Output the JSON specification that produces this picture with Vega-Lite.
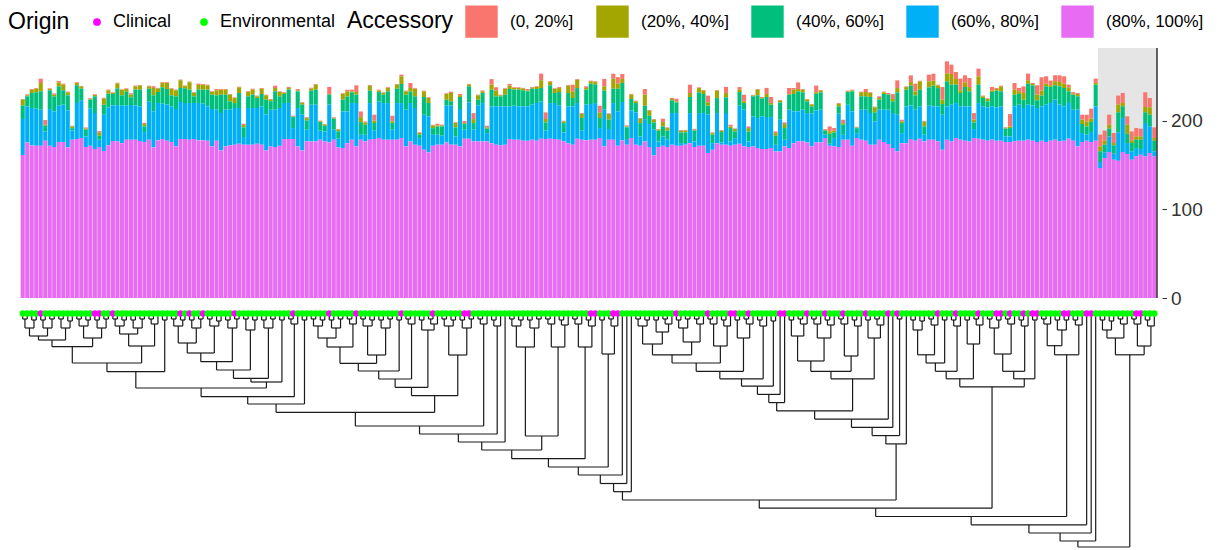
{
"$schema": "https://vega.github.io/schema/vega-lite/v6.json",
"width": 1147, "height": 501,
"autosize": {"type": "none"},
"padding": {"left": 15, "top": 48, "right": 58, "bottom": 1},
"background": "white",
"config": {"view": {"stroke": null}, "font": "Liberation Sans"},
"datasets": {
"hl": [{"from": 239.5, "to": 252.6, "bot": 0, "top": 282}],
"bars": [
{"i":1,"a":0.8,"b":6.4,"c":15.4,"d":40.7,"e":161.2,"o":"E"},
{"i":2,"a":1.1,"b":1.1,"c":11.3,"d":40.7,"e":175.5,"o":"E"},
{"i":3,"a":0.8,"b":3.8,"c":16.9,"d":42.2,"e":172.1,"o":"E"},
{"i":4,"a":0.8,"b":4.1,"c":18.5,"d":41.8,"e":171.7,"o":"E"},
{"i":5,"a":4.9,"b":9.4,"c":20.7,"d":40.7,"e":171.7,"o":"C"},
{"i":6,"a":5.3,"b":1.1,"c":6.4,"d":10.5,"e":177.4,"o":"E"},
{"i":7,"a":0.8,"b":1.5,"c":21.1,"d":41.4,"e":171.7,"o":"E"},
{"i":8,"a":1.5,"b":1.9,"c":16.9,"d":40.3,"e":170.2,"o":"E"},
{"i":9,"a":1.5,"b":4.5,"c":21.8,"d":41.0,"e":175.9,"o":"E"},
{"i":10,"a":1.1,"b":6.4,"c":16.2,"d":42.2,"e":175.9,"o":"E"},
{"i":11,"a":0.8,"b":3.4,"c":16.9,"d":41.8,"e":169.9,"o":"E"},
{"i":12,"a":0.8,"b":1.9,"c":2.6,"d":10.5,"e":178.5,"o":"E"},
{"i":13,"a":0.8,"b":2.6,"c":20.0,"d":40.7,"e":179.3,"o":"E"},
{"i":14,"a":0.8,"b":2.3,"c":13.2,"d":42.6,"e":180.4,"o":"E"},
{"i":15,"a":1.1,"b":1.5,"c":7.5,"d":12.1,"e":170.2,"o":"E"},
{"i":16,"a":0.8,"b":0.8,"c":10.2,"d":41.8,"e":171.7,"o":"E"},
{"i":17,"a":0.8,"b":1.5,"c":18.8,"d":40.7,"e":168.0,"o":"C"},
{"i":18,"a":1.9,"b":3.4,"c":4.5,"d":8.3,"e":170.2,"o":"C"},
{"i":19,"a":1.1,"b":6.8,"c":11.3,"d":41.0,"e":165.7,"o":"E"},
{"i":20,"a":0.8,"b":3.8,"c":15.8,"d":42.6,"e":172.1,"o":"E"},
{"i":21,"a":0.8,"b":1.1,"c":12.8,"d":40.3,"e":177.0,"o":"C"},
{"i":22,"a":0.8,"b":5.6,"c":18.8,"d":41.0,"e":176.6,"o":"E"},
{"i":23,"a":0.4,"b":6.4,"c":11.7,"d":42.2,"e":174.7,"o":"E"},
{"i":24,"a":0.8,"b":3.0,"c":15.8,"d":38.4,"e":178.5,"o":"E"},
{"i":25,"a":1.5,"b":3.0,"c":8.7,"d":39.2,"e":178.5,"o":"E"},
{"i":26,"a":0.8,"b":3.8,"c":17.7,"d":38.8,"e":178.5,"o":"E"},
{"i":27,"a":0.8,"b":4.5,"c":18.8,"d":39.2,"e":177.0,"o":"E"},
{"i":28,"a":1.5,"b":2.6,"c":6.4,"d":11.3,"e":175.9,"o":"E"},
{"i":29,"a":0.8,"b":2.6,"c":14.7,"d":42.9,"e":178.5,"o":"E"},
{"i":30,"a":1.9,"b":8.3,"c":18.1,"d":40.7,"e":169.9,"o":"E"},
{"i":31,"a":0.8,"b":3.8,"c":12.4,"d":42.2,"e":177.8,"o":"E"},
{"i":32,"a":0.8,"b":4.9,"c":18.5,"d":39.9,"e":179.3,"o":"E"},
{"i":33,"a":0.8,"b":6.8,"c":17.7,"d":40.7,"e":177.4,"o":"E"},
{"i":34,"a":0.8,"b":7.2,"c":12.4,"d":40.3,"e":175.9,"o":"E"},
{"i":35,"a":0.8,"b":6.8,"c":14.3,"d":42.2,"e":171.0,"o":"E"},
{"i":36,"a":0.8,"b":8.7,"c":15.8,"d":41.8,"e":179.3,"o":"C"},
{"i":37,"a":0.8,"b":2.3,"c":16.6,"d":40.7,"e":179.3,"o":"E"},
{"i":38,"a":0.8,"b":8.3,"c":15.1,"d":41.4,"e":178.5,"o":"C"},
{"i":39,"a":0.8,"b":3.8,"c":7.5,"d":40.7,"e":179.3,"o":"E"},
{"i":40,"a":1.5,"b":5.3,"c":15.1,"d":42.2,"e":177.8,"o":"E"},
{"i":41,"a":0.8,"b":5.6,"c":15.8,"d":41.4,"e":177.8,"o":"C"},
{"i":42,"a":0.8,"b":4.9,"c":18.8,"d":38.8,"e":177.4,"o":"E"},
{"i":43,"a":0.8,"b":3.0,"c":16.2,"d":42.2,"e":171.0,"o":"E"},
{"i":44,"a":1.5,"b":5.6,"c":16.2,"d":35.0,"e":177.4,"o":"E"},
{"i":45,"a":0.8,"b":5.6,"c":20.7,"d":42.2,"e":166.5,"o":"E"},
{"i":46,"a":0.8,"b":5.6,"c":16.9,"d":41.4,"e":171.0,"o":"E"},
{"i":47,"a":0.8,"b":7.5,"c":9.4,"d":40.3,"e":172.1,"o":"E"},
{"i":48,"a":0.8,"b":5.6,"c":5.6,"d":41.4,"e":172.9,"o":"C"},
{"i":49,"a":0.8,"b":6.4,"c":16.9,"d":40.3,"e":174.0,"o":"E"},
{"i":50,"a":1.5,"b":2.6,"c":10.9,"d":8.7,"e":172.9,"o":"E"},
{"i":51,"a":0.8,"b":4.9,"c":13.2,"d":41.4,"e":172.9,"o":"E"},
{"i":52,"a":1.1,"b":5.6,"c":15.1,"d":41.4,"e":172.9,"o":"E"},
{"i":53,"a":0.8,"b":1.9,"c":11.3,"d":40.3,"e":174.0,"o":"E"},
{"i":54,"a":0.8,"b":6.0,"c":13.9,"d":43.3,"e":172.9,"o":"E"},
{"i":55,"a":0.8,"b":4.9,"c":16.9,"d":40.3,"e":166.5,"o":"E"},
{"i":56,"a":0.8,"b":1.9,"c":9.4,"d":41.4,"e":171.0,"o":"E"},
{"i":57,"a":2.6,"b":3.8,"c":20.7,"d":42.2,"e":170.2,"o":"E"},
{"i":58,"a":0.8,"b":4.9,"c":13.2,"d":42.6,"e":171.7,"o":"E"},
{"i":59,"a":0.8,"b":1.1,"c":10.2,"d":40.7,"e":179.3,"o":"E"},
{"i":60,"a":1.1,"b":1.9,"c":15.1,"d":40.7,"e":179.3,"o":"E"},
{"i":61,"a":0.8,"b":0.8,"c":12.4,"d":12.4,"e":179.3,"o":"C"},
{"i":62,"a":1.5,"b":1.1,"c":18.8,"d":43.3,"e":171.0,"o":"E"},
{"i":63,"a":0.8,"b":1.9,"c":11.3,"d":40.3,"e":166.5,"o":"E"},
{"i":64,"a":1.1,"b":2.6,"c":10.5,"d":13.2,"e":176.6,"o":"E"},
{"i":65,"a":1.1,"b":2.3,"c":15.8,"d":41.4,"e":176.6,"o":"E"},
{"i":66,"a":0.8,"b":5.6,"c":16.9,"d":41.4,"e":176.6,"o":"E"},
{"i":67,"a":0.8,"b":0.8,"c":9.8,"d":10.2,"e":178.5,"o":"E"},
{"i":68,"a":0.8,"b":1.1,"c":6.4,"d":11.3,"e":176.6,"o":"E"},
{"i":69,"a":7.9,"b":0.8,"c":11.3,"d":42.6,"e":175.5,"o":"C"},
{"i":70,"a":0.8,"b":0.8,"c":12.4,"d":11.3,"e":178.5,"o":"E"},
{"i":71,"a":0.8,"b":1.9,"c":8.3,"d":9.8,"e":169.9,"o":"E"},
{"i":72,"a":0.8,"b":6.4,"c":13.2,"d":41.4,"e":169.1,"o":"E"},
{"i":73,"a":1.9,"b":5.6,"c":16.9,"d":35.8,"e":174.7,"o":"E"},
{"i":74,"a":1.9,"b":1.1,"c":12.1,"d":41.4,"e":178.5,"o":"E"},
{"i":75,"a":7.5,"b":3.0,"c":9.4,"d":49.0,"e":171.0,"o":"C"},
{"i":76,"a":6.4,"b":5.6,"c":14.3,"d":5.6,"e":178.5,"o":"E"},
{"i":77,"a":1.1,"b":2.6,"c":11.3,"d":7.5,"e":176.6,"o":"E"},
{"i":78,"a":0.8,"b":5.6,"c":13.9,"d":41.4,"e":178.5,"o":"E"},
{"i":79,"a":6.8,"b":2.6,"c":8.7,"d":9.4,"e":179.3,"o":"E"},
{"i":80,"a":0.8,"b":1.9,"c":10.5,"d":41.4,"e":180.4,"o":"E"},
{"i":81,"a":0.8,"b":1.9,"c":9.4,"d":41.4,"e":178.5,"o":"E"},
{"i":82,"a":0.8,"b":3.8,"c":13.2,"d":41.4,"e":178.5,"o":"E"},
{"i":83,"a":6.4,"b":1.9,"c":7.5,"d":11.3,"e":178.5,"o":"E"},
{"i":84,"a":0.8,"b":4.5,"c":16.2,"d":41.4,"e":178.5,"o":"E"},
{"i":85,"a":1.9,"b":8.7,"c":21.5,"d":39.5,"e":180.4,"o":"C"},
{"i":86,"a":0.8,"b":3.8,"c":16.9,"d":41.4,"e":171.0,"o":"E"},
{"i":87,"a":5.6,"b":3.8,"c":13.2,"d":43.3,"e":176.6,"o":"E"},
{"i":88,"a":0.8,"b":8.3,"c":13.2,"d":41.4,"e":172.9,"o":"E"},
{"i":89,"a":0.8,"b":1.9,"c":3.8,"d":8.7,"e":171.7,"o":"E"},
{"i":90,"a":0.8,"b":6.4,"c":20.0,"d":39.5,"e":167.2,"o":"E"},
{"i":91,"a":0.8,"b":5.6,"c":15.1,"d":40.7,"e":164.2,"o":"E"},
{"i":92,"a":0.8,"b":3.0,"c":7.5,"d":12.4,"e":171.7,"o":"C"},
{"i":93,"a":1.9,"b":1.1,"c":9.4,"d":11.3,"e":172.9,"o":"E"},
{"i":94,"a":1.1,"b":0.8,"c":10.5,"d":10.2,"e":172.9,"o":"E"},
{"i":95,"a":0.8,"b":6.4,"c":6.8,"d":41.4,"e":175.5,"o":"E"},
{"i":96,"a":1.5,"b":9.4,"c":4.9,"d":44.1,"e":172.9,"o":"E"},
{"i":97,"a":0.8,"b":4.9,"c":10.2,"d":9.4,"e":172.9,"o":"E"},
{"i":98,"a":1.5,"b":1.9,"c":13.6,"d":42.2,"e":171.0,"o":"E"},
{"i":99,"a":2.3,"b":1.1,"c":6.4,"d":10.2,"e":179.6,"o":"C"},
{"i":100,"a":0.8,"b":1.9,"c":18.1,"d":41.0,"e":179.6,"o":"C"},
{"i":101,"a":6.8,"b":4.5,"c":7.5,"d":13.2,"e":176.6,"o":"E"},
{"i":102,"a":0.8,"b":4.9,"c":6.4,"d":40.7,"e":176.6,"o":"E"},
{"i":103,"a":1.1,"b":1.9,"c":11.3,"d":43.3,"e":176.6,"o":"E"},
{"i":104,"a":1.9,"b":1.5,"c":4.9,"d":9.4,"e":176.6,"o":"E"},
{"i":105,"a":6.4,"b":5.6,"c":18.8,"d":41.4,"e":174.7,"o":"E"},
{"i":106,"a":3.8,"b":6.4,"c":11.3,"d":43.3,"e":172.9,"o":"E"},
{"i":107,"a":0.8,"b":1.1,"c":11.3,"d":44.1,"e":172.1,"o":"E"},
{"i":108,"a":0.8,"b":6.4,"c":13.2,"d":43.3,"e":172.9,"o":"E"},
{"i":109,"a":1.9,"b":3.8,"c":19.6,"d":36.9,"e":179.3,"o":"E"},
{"i":110,"a":0.8,"b":1.9,"c":18.1,"d":38.4,"e":178.5,"o":"E"},
{"i":111,"a":0.8,"b":1.9,"c":18.8,"d":37.7,"e":178.5,"o":"E"},
{"i":112,"a":0.8,"b":1.9,"c":18.1,"d":38.8,"e":177.4,"o":"E"},
{"i":113,"a":1.5,"b":1.1,"c":16.9,"d":38.8,"e":177.4,"o":"E"},
{"i":114,"a":0.8,"b":1.1,"c":18.1,"d":39.5,"e":178.5,"o":"E"},
{"i":115,"a":0.8,"b":2.3,"c":15.8,"d":42.6,"e":177.4,"o":"E"},
{"i":116,"a":7.5,"b":8.7,"c":15.1,"d":42.2,"e":179.6,"o":"E"},
{"i":117,"a":7.5,"b":3.8,"c":9.0,"d":9.8,"e":179.3,"o":"E"},
{"i":118,"a":0.8,"b":3.8,"c":20.0,"d":40.3,"e":179.6,"o":"E"},
{"i":119,"a":0.8,"b":4.5,"c":11.3,"d":40.7,"e":179.3,"o":"E"},
{"i":120,"a":1.1,"b":4.5,"c":15.4,"d":38.4,"e":178.5,"o":"E"},
{"i":121,"a":0.8,"b":1.9,"c":10.5,"d":10.2,"e":176.6,"o":"E"},
{"i":122,"a":0.8,"b":8.3,"c":15.1,"d":41.4,"e":174.7,"o":"E"},
{"i":123,"a":7.5,"b":7.5,"c":9.4,"d":43.3,"e":172.9,"o":"E"},
{"i":124,"a":0.8,"b":9.4,"c":16.9,"d":40.3,"e":179.6,"o":"E"},
{"i":125,"a":0.8,"b":4.9,"c":14.3,"d":10.2,"e":178.5,"o":"E"},
{"i":126,"a":1.9,"b":1.9,"c":16.9,"d":40.3,"e":177.8,"o":"E"},
{"i":127,"a":0.8,"b":2.6,"c":23.0,"d":40.3,"e":178.5,"o":"C"},
{"i":128,"a":0.8,"b":3.0,"c":20.7,"d":41.4,"e":178.5,"o":"C"},
{"i":129,"a":7.5,"b":6.4,"c":11.3,"d":11.3,"e":180.4,"o":"E"},
{"i":130,"a":8.3,"b":4.9,"c":21.5,"d":41.4,"e":171.0,"o":"E"},
{"i":131,"a":0.8,"b":6.4,"c":10.5,"d":12.1,"e":178.5,"o":"E"},
{"i":132,"a":5.6,"b":11.3,"c":16.2,"d":41.4,"e":178.5,"o":"C"},
{"i":133,"a":7.5,"b":5.6,"c":25.6,"d":38.8,"e":171.7,"o":"C"},
{"i":134,"a":5.6,"b":4.5,"c":21.5,"d":43.3,"e":177.8,"o":"E"},
{"i":135,"a":1.1,"b":1.1,"c":13.2,"d":6.4,"e":172.9,"o":"E"},
{"i":136,"a":0.8,"b":4.9,"c":12.8,"d":31.3,"e":180.4,"o":"E"},
{"i":137,"a":0.8,"b":1.9,"c":10.5,"d":36.5,"e":172.9,"o":"E"},
{"i":138,"a":0.8,"b":4.9,"c":15.1,"d":10.5,"e":171.7,"o":"E"},
{"i":139,"a":6.4,"b":12.4,"c":15.1,"d":25.2,"e":176.6,"o":"E"},
{"i":140,"a":0.8,"b":5.6,"c":9.4,"d":26.0,"e":170.2,"o":"E"},
{"i":141,"a":0.8,"b":3.0,"c":8.3,"d":29.0,"e":160.8,"o":"E"},
{"i":142,"a":0.8,"b":1.1,"c":12.1,"d":6.4,"e":170.2,"o":"E"},
{"i":143,"a":3.8,"b":4.9,"c":11.3,"d":10.5,"e":171.7,"o":"E"},
{"i":144,"a":0.8,"b":3.0,"c":10.2,"d":8.3,"e":170.2,"o":"E"},
{"i":145,"a":1.1,"b":1.5,"c":14.3,"d":35.8,"e":172.9,"o":"E"},
{"i":146,"a":3.0,"b":1.1,"c":12.1,"d":36.9,"e":171.7,"o":"C"},
{"i":147,"a":0.8,"b":1.9,"c":12.1,"d":3.0,"e":171.7,"o":"E"},
{"i":148,"a":0.8,"b":1.9,"c":12.1,"d":1.9,"e":172.9,"o":"E"},
{"i":149,"a":9.4,"b":4.5,"c":18.1,"d":33.9,"e":174.7,"o":"E"},
{"i":150,"a":1.1,"b":1.1,"c":12.1,"d":6.4,"e":170.2,"o":"E"},
{"i":151,"a":0.8,"b":4.9,"c":23.3,"d":36.9,"e":171.7,"o":"E"},
{"i":152,"a":0.8,"b":3.8,"c":21.5,"d":36.9,"e":171.7,"o":"E"},
{"i":153,"a":7.5,"b":3.8,"c":10.2,"d":43.3,"e":163.5,"o":"C"},
{"i":154,"a":0.8,"b":1.9,"c":9.4,"d":7.5,"e":167.2,"o":"E"},
{"i":155,"a":0.8,"b":8.3,"c":16.9,"d":33.9,"e":174.7,"o":"E"},
{"i":156,"a":0.8,"b":1.5,"c":11.7,"d":2.6,"e":172.9,"o":"E"},
{"i":157,"a":6.8,"b":4.9,"c":17.7,"d":35.8,"e":172.9,"o":"E"},
{"i":158,"a":1.9,"b":1.9,"c":15.1,"d":4.9,"e":171.7,"o":"C"},
{"i":159,"a":0.8,"b":2.6,"c":7.5,"d":7.5,"e":172.9,"o":"C"},
{"i":160,"a":3.0,"b":2.6,"c":15.4,"d":42.9,"e":174.0,"o":"E"},
{"i":161,"a":7.5,"b":1.9,"c":7.5,"d":41.4,"e":171.0,"o":"E"},
{"i":162,"a":1.9,"b":3.8,"c":11.3,"d":6.4,"e":170.2,"o":"C"},
{"i":163,"a":0.8,"b":0.8,"c":22.6,"d":33.9,"e":171.0,"o":"E"},
{"i":164,"a":0.8,"b":6.4,"c":25.6,"d":33.9,"e":169.1,"o":"E"},
{"i":165,"a":1.1,"b":0.8,"c":20.0,"d":36.9,"e":168.0,"o":"E"},
{"i":166,"a":6.8,"b":3.4,"c":22.6,"d":36.2,"e":168.0,"o":"E"},
{"i":167,"a":6.8,"b":1.9,"c":13.9,"d":35.0,"e":169.1,"o":"E"},
{"i":168,"a":1.9,"b":3.0,"c":10.2,"d":7.5,"e":165.3,"o":"E"},
{"i":169,"a":0.8,"b":1.9,"c":19.6,"d":35.8,"e":165.3,"o":"C"},
{"i":170,"a":1.9,"b":4.5,"c":13.2,"d":7.5,"e":171.0,"o":"C"},
{"i":171,"a":6.8,"b":0.8,"c":16.9,"d":43.3,"e":169.1,"o":"E"},
{"i":172,"a":1.9,"b":4.9,"c":19.6,"d":35.8,"e":174.7,"o":"E"},
{"i":173,"a":7.5,"b":2.6,"c":22.6,"d":33.9,"e":176.6,"o":"E"},
{"i":174,"a":0.8,"b":3.0,"c":19.6,"d":35.8,"e":176.6,"o":"E"},
{"i":175,"a":0.8,"b":1.9,"c":13.2,"d":33.1,"e":175.5,"o":"C"},
{"i":176,"a":0.8,"b":1.9,"c":8.3,"d":36.9,"e":171.0,"o":"E"},
{"i":177,"a":7.5,"b":1.9,"c":18.5,"d":36.2,"e":175.5,"o":"E"},
{"i":178,"a":0.8,"b":1.9,"c":19.6,"d":36.9,"e":175.5,"o":"E"},
{"i":179,"a":0.8,"b":1.1,"c":4.5,"d":3.8,"e":180.4,"o":"C"},
{"i":180,"a":5.6,"b":2.6,"c":11.3,"d":2.3,"e":171.7,"o":"E"},
{"i":181,"a":3.0,"b":1.9,"c":6.4,"d":9.4,"e":171.0,"o":"E"},
{"i":182,"a":0.8,"b":3.0,"c":8.3,"d":37.7,"e":170.2,"o":"E"},
{"i":183,"a":3.8,"b":1.9,"c":11.3,"d":5.6,"e":178.5,"o":"C"},
{"i":184,"a":0.8,"b":0.8,"c":14.3,"d":39.5,"e":178.5,"o":"E"},
{"i":185,"a":0.8,"b":1.1,"c":22.6,"d":38.8,"e":171.7,"o":"E"},
{"i":186,"a":0.8,"b":0.8,"c":5.6,"d":5.6,"e":180.4,"o":"E"},
{"i":187,"a":0.8,"b":4.5,"c":15.1,"d":33.9,"e":178.5,"o":"E"},
{"i":188,"a":3.4,"b":4.9,"c":15.1,"d":35.0,"e":177.4,"o":"C"},
{"i":189,"a":0.8,"b":4.5,"c":18.1,"d":35.8,"e":172.9,"o":"E"},
{"i":190,"a":0.8,"b":5.6,"c":10.2,"d":26.4,"e":172.9,"o":"E"},
{"i":191,"a":1.9,"b":1.9,"c":11.3,"d":33.9,"e":178.5,"o":"E"},
{"i":192,"a":0.8,"b":1.9,"c":17.7,"d":36.5,"e":175.9,"o":"E"},
{"i":193,"a":1.5,"b":0.4,"c":17.0,"d":38.8,"e":173.6,"o":"C"},
{"i":194,"a":5.6,"b":2.6,"c":13.2,"d":39.5,"e":169.1,"o":"E"},
{"i":195,"a":8.7,"b":4.9,"c":25.2,"d":41.4,"e":165.3,"o":"C"},
{"i":196,"a":1.9,"b":1.9,"c":11.3,"d":11.3,"e":174.7,"o":"E"},
{"i":197,"a":0.8,"b":3.0,"c":18.8,"d":41.4,"e":174.7,"o":"E"},
{"i":198,"a":7.5,"b":4.1,"c":22.2,"d":38.0,"e":179.3,"o":"E"},
{"i":199,"a":8.7,"b":4.5,"c":16.2,"d":35.0,"e":177.4,"o":"E"},
{"i":200,"a":0.8,"b":9.4,"c":18.8,"d":36.5,"e":179.6,"o":"E"},
{"i":201,"a":0.8,"b":5.6,"c":9.4,"d":7.5,"e":176.6,"o":"E"},
{"i":202,"a":7.5,"b":6.8,"c":20.7,"d":38.4,"e":178.5,"o":"E"},
{"i":203,"a":7.9,"b":5.6,"c":23.3,"d":37.7,"e":178.5,"o":"E"},
{"i":204,"a":0.8,"b":3.0,"c":20.7,"d":39.5,"e":176.6,"o":"C"},
{"i":205,"a":14.3,"b":4.9,"c":12.1,"d":39.5,"e":167.2,"o":"E"},
{"i":206,"a":13.9,"b":8.7,"c":28.2,"d":37.7,"e":178.5,"o":"E"},
{"i":207,"a":10.5,"b":12.1,"c":22.6,"d":41.4,"e":176.6,"o":"E"},
{"i":208,"a":7.9,"b":6.4,"c":20.7,"d":39.5,"e":180.4,"o":"C"},
{"i":209,"a":13.2,"b":3.0,"c":15.1,"d":37.7,"e":178.5,"o":"E"},
{"i":210,"a":7.9,"b":5.3,"c":21.8,"d":38.8,"e":177.4,"o":"E"},
{"i":211,"a":10.2,"b":4.9,"c":16.9,"d":39.5,"e":176.6,"o":"E"},
{"i":212,"a":7.5,"b":3.0,"c":7.5,"d":10.2,"e":180.4,"o":"E"},
{"i":213,"a":8.7,"b":9.4,"c":20.7,"d":40.3,"e":179.6,"o":"C"},
{"i":214,"a":0.8,"b":1.9,"c":9.4,"d":37.7,"e":178.5,"o":"E"},
{"i":215,"a":0.8,"b":2.6,"c":6.8,"d":37.7,"e":177.4,"o":"E"},
{"i":216,"a":4.1,"b":1.5,"c":16.2,"d":37.7,"e":178.6,"o":"E"},
{"i":217,"a":1.1,"b":1.9,"c":18.8,"d":37.7,"e":177.4,"o":"C"},
{"i":218,"a":1.1,"b":5.3,"c":16.9,"d":38.8,"e":177.4,"o":"C"},
{"i":219,"a":0.8,"b":0.8,"c":8.7,"d":6.4,"e":175.9,"o":"E"},
{"i":220,"a":13.9,"b":1.9,"c":9.4,"d":6.4,"e":175.9,"o":"C"},
{"i":221,"a":7.5,"b":5.6,"c":13.2,"d":39.5,"e":176.7,"o":"E"},
{"i":222,"a":3.8,"b":3.0,"c":12.1,"d":40.7,"e":177.4,"o":"E"},
{"i":223,"a":7.5,"b":7.5,"c":9.4,"d":36.9,"e":177.4,"o":"C"},
{"i":224,"a":7.5,"b":3.8,"c":23.7,"d":39.5,"e":178.6,"o":"E"},
{"i":225,"a":1.1,"b":1.5,"c":22.6,"d":39.9,"e":177.4,"o":"C"},
{"i":226,"a":10.5,"b":6.4,"c":8.7,"d":38.4,"e":175.9,"o":"C"},
{"i":227,"a":15.1,"b":5.6,"c":12.1,"d":38.8,"e":177.4,"o":"E"},
{"i":228,"a":8.3,"b":3.0,"c":20.7,"d":42.2,"e":175.9,"o":"E"},
{"i":229,"a":5.3,"b":1.9,"c":18.1,"d":42.6,"e":177.4,"o":"E"},
{"i":230,"a":6.8,"b":4.5,"c":16.2,"d":45.2,"e":178.6,"o":"E"},
{"i":231,"a":7.5,"b":4.9,"c":20.7,"d":41.4,"e":176.7,"o":"E"},
{"i":232,"a":8.3,"b":4.9,"c":20.7,"d":38.8,"e":177.4,"o":"C"},
{"i":233,"a":3.0,"b":4.5,"c":13.2,"d":40.3,"e":179.7,"o":"C"},
{"i":234,"a":1.9,"b":1.1,"c":16.9,"d":35.0,"e":177.4,"o":"E"},
{"i":235,"a":1.1,"b":2.6,"c":15.1,"d":41.4,"e":171.0,"o":"E"},
{"i":236,"a":5.6,"b":4.9,"c":10.2,"d":10.2,"e":175.9,"o":"E"},
{"i":237,"a":7.5,"b":5.6,"c":9.4,"d":6.8,"e":177.4,"o":"C"},
{"i":238,"a":11.3,"b":3.8,"c":11.3,"d":11.3,"e":175.9,"o":"C"},
{"i":239,"a":4.9,"b":1.9,"c":24.5,"d":38.8,"e":177.4,"o":"E"},
{"i":240,"a":13.2,"b":5.6,"c":12.1,"d":6.8,"e":146.6,"o":"E"},
{"i":241,"a":11.3,"b":4.5,"c":8.7,"d":6.4,"e":157.9,"o":"E"},
{"i":242,"a":11.3,"b":4.5,"c":8.7,"d":17.7,"e":164.6,"o":"E"},
{"i":243,"a":11.3,"b":2.6,"c":9.4,"d":6.8,"e":156.0,"o":"E"},
{"i":244,"a":10.2,"b":8.7,"c":22.6,"d":32.0,"e":154.8,"o":"E"},
{"i":245,"a":11.3,"b":3.8,"c":13.2,"d":38.4,"e":164.6,"o":"E"},
{"i":246,"a":9.4,"b":10.2,"c":10.5,"d":12.4,"e":162.4,"o":"E"},
{"i":247,"a":10.5,"b":2.6,"c":9.4,"d":9.4,"e":156.0,"o":"E"},
{"i":248,"a":9.4,"b":3.8,"c":9.4,"d":9.4,"e":159.7,"o":"C"},
{"i":249,"a":8.7,"b":3.8,"c":10.5,"d":6.4,"e":161.6,"o":"C"},
{"i":250,"a":16.6,"b":6.0,"c":12.1,"d":37.7,"e":159.7,"o":"E"},
{"i":251,"a":10.5,"b":8.3,"c":13.2,"d":30.1,"e":163.5,"o":"E"},
{"i":252,"a":12.1,"b":3.0,"c":12.1,"d":5.6,"e":159.7,"o":"E"}
],
"tree": [
{"x1":1,"x2":2,"h":3,"h1":0,"h2":0},{"x1":3,"x2":4,"h":4,"h1":0,"h2":0},{"x1":1.5,"x2":3.5,"h":12,"h1":3,"h2":4},
{"x1":5,"x2":6,"h":4,"h1":0,"h2":0},{"x1":7,"x2":8,"h":3,"h1":0,"h2":0},{"x1":5.5,"x2":7.5,"h":12,"h1":4,"h2":3},
{"x1":2.5,"x2":6.5,"h":20,"h1":12,"h2":12},
{"x1":9,"x2":10,"h":3,"h1":0,"h2":0},{"x1":11,"x2":12,"h":5,"h1":0,"h2":0},{"x1":9.5,"x2":11.5,"h":12,"h1":3,"h2":5},
{"x1":4.5,"x2":10.5,"h":24,"h1":20,"h2":12},
{"x1":13,"x2":14,"h":3,"h1":0,"h2":0},{"x1":15,"x2":16,"h":4,"h1":0,"h2":0},{"x1":13.5,"x2":15.5,"h":10,"h1":3,"h2":4},
{"x1":17,"x2":18,"h":4,"h1":0,"h2":0},{"x1":19,"x2":20,"h":3,"h1":0,"h2":0},{"x1":17.5,"x2":19.5,"h":12,"h1":4,"h2":3},
{"x1":14.5,"x2":18.5,"h":22,"h1":10,"h2":12},
{"x1":7.5,"x2":16.5,"h":30.7,"h1":24,"h2":22},
{"x1":21,"x2":22,"h":3,"h1":0,"h2":0},{"x1":23,"x2":24,"h":4,"h1":0,"h2":0},{"x1":21.5,"x2":23.5,"h":10,"h1":3,"h2":4},
{"x1":25,"x2":26,"h":4,"h1":0,"h2":0},{"x1":27,"x2":28,"h":3,"h1":0,"h2":0},{"x1":25.5,"x2":27.5,"h":12,"h1":4,"h2":3},
{"x1":22.5,"x2":26.5,"h":18,"h1":10,"h2":12},
{"x1":29,"x2":30,"h":3,"h1":0,"h2":0},{"x1":29.5,"x2":31,"h":8,"h1":3,"h2":0},
{"x1":24.5,"x2":30.25,"h":30,"h1":18,"h2":8},
{"x1":12,"x2":27.375,"h":47,"h1":30.7,"h2":30},
{"x1":32,"x2":33,"h":4,"h1":0,"h2":0},
{"x1":19.69,"x2":32.5,"h":55.7,"h1":47,"h2":4},
{"x1":34,"x2":35,"h":3,"h1":0,"h2":0},{"x1":36,"x2":37,"h":4,"h1":0,"h2":0},{"x1":34.5,"x2":36.5,"h":10,"h1":3,"h2":4},
{"x1":38,"x2":39,"h":4,"h1":0,"h2":0},{"x1":40,"x2":41,"h":3,"h1":0,"h2":0},{"x1":38.5,"x2":40.5,"h":12,"h1":4,"h2":3},
{"x1":35.5,"x2":39.5,"h":27,"h1":10,"h2":12},
{"x1":42,"x2":43,"h":3,"h1":0,"h2":0},{"x1":44,"x2":45,"h":5,"h1":0,"h2":0},{"x1":42.5,"x2":44.5,"h":10,"h1":3,"h2":5},
{"x1":37.5,"x2":43.5,"h":37,"h1":27,"h2":10},
{"x1":46,"x2":47,"h":4,"h1":0,"h2":0},{"x1":48,"x2":49,"h":3,"h1":0,"h2":0},{"x1":46.5,"x2":48.5,"h":12,"h1":4,"h2":3},
{"x1":40.5,"x2":47.5,"h":45.7,"h1":37,"h2":12},
{"x1":50,"x2":51,"h":3,"h1":0,"h2":0},{"x1":52,"x2":53,"h":4,"h1":0,"h2":0},{"x1":50.5,"x2":52.5,"h":14,"h1":3,"h2":4},
{"x1":44,"x2":51.5,"h":54,"h1":45.7,"h2":14},
{"x1":54,"x2":55,"h":4,"h1":0,"h2":0},{"x1":56,"x2":57,"h":3,"h1":0,"h2":0},{"x1":54.5,"x2":56.5,"h":12,"h1":4,"h2":3},
{"x1":47.75,"x2":55.5,"h":62.3,"h1":54,"h2":12},
{"x1":58,"x2":59,"h":4,"h1":0,"h2":0},
{"x1":51.625,"x2":58.5,"h":66,"h1":62.3,"h2":4},
{"x1":26.09,"x2":55.06,"h":72,"h1":55.7,"h2":66},
{"x1":60,"x2":61,"h":3,"h1":0,"h2":0},{"x1":60.5,"x2":62,"h":8,"h1":3,"h2":0},
{"x1":40.575,"x2":61.25,"h":80.7,"h1":72,"h2":8},
{"x1":63,"x2":64,"h":4,"h1":0,"h2":0},
{"x1":50.91,"x2":63.5,"h":88,"h1":80.7,"h2":4},
{"x1":65,"x2":66,"h":3,"h1":0,"h2":0},{"x1":67,"x2":68,"h":4,"h1":0,"h2":0},{"x1":65.5,"x2":67.5,"h":10,"h1":3,"h2":4},
{"x1":69,"x2":70,"h":4,"h1":0,"h2":0},{"x1":71,"x2":72,"h":3,"h1":0,"h2":0},{"x1":69.5,"x2":71.5,"h":12,"h1":4,"h2":3},
{"x1":66.5,"x2":70.5,"h":22,"h1":10,"h2":12},
{"x1":73,"x2":74,"h":3,"h1":0,"h2":0},{"x1":73.5,"x2":75,"h":8,"h1":3,"h2":0},
{"x1":68.5,"x2":74.25,"h":31,"h1":22,"h2":8},
{"x1":76,"x2":77,"h":3,"h1":0,"h2":0},{"x1":78,"x2":79,"h":4,"h1":0,"h2":0},{"x1":76.5,"x2":78.5,"h":10,"h1":3,"h2":4},
{"x1":80,"x2":81,"h":4,"h1":0,"h2":0},{"x1":82,"x2":83,"h":3,"h1":0,"h2":0},{"x1":80.5,"x2":82.5,"h":12,"h1":4,"h2":3},
{"x1":77.5,"x2":81.5,"h":39,"h1":10,"h2":12},
{"x1":71.375,"x2":79.5,"h":47.3,"h1":31,"h2":39},
{"x1":84,"x2":85,"h":4,"h1":0,"h2":0},
{"x1":75.44,"x2":84.5,"h":55,"h1":47.3,"h2":4},
{"x1":86,"x2":87,"h":3,"h1":0,"h2":0},{"x1":86.5,"x2":88,"h":8,"h1":3,"h2":0},
{"x1":79.97,"x2":87.25,"h":63,"h1":55,"h2":8},
{"x1":89,"x2":90,"h":4,"h1":0,"h2":0},{"x1":91,"x2":92,"h":3,"h1":0,"h2":0},{"x1":91.5,"x2":93,"h":8,"h1":3,"h2":0},
{"x1":89.5,"x2":92.25,"h":14,"h1":4,"h2":8},
{"x1":83.61,"x2":90.875,"h":71.3,"h1":63,"h2":14},
{"x1":94,"x2":95,"h":3,"h1":0,"h2":0},{"x1":96,"x2":97,"h":4,"h1":0,"h2":0},{"x1":94.5,"x2":96.5,"h":10,"h1":3,"h2":4},
{"x1":98,"x2":99,"h":4,"h1":0,"h2":0},{"x1":100,"x2":101,"h":3,"h1":0,"h2":0},{"x1":98.5,"x2":100.5,"h":12,"h1":4,"h2":3},
{"x1":95.5,"x2":99.5,"h":39,"h1":10,"h2":12},
{"x1":87.24,"x2":97.5,"h":79.7,"h1":71.3,"h2":39},
{"x1":57.2,"x2":92.37,"h":96.3,"h1":88,"h2":79.7},
{"x1":102,"x2":103,"h":3,"h1":0,"h2":0},{"x1":102.5,"x2":104,"h":8,"h1":3,"h2":0},
{"x1":74.785,"x2":103.25,"h":110,"h1":96.3,"h2":8},
{"x1":105,"x2":106,"h":4,"h1":0,"h2":0},{"x1":105.5,"x2":107,"h":10,"h1":4,"h2":0},
{"x1":89.02,"x2":106.25,"h":118,"h1":110,"h2":10},
{"x1":97.63,"x2":108,"h":126,"h1":118,"h2":0},
{"x1":109,"x2":110,"h":3,"h1":0,"h2":0},{"x1":111,"x2":112,"h":4,"h1":0,"h2":0},{"x1":109.5,"x2":111.5,"h":10,"h1":3,"h2":4},
{"x1":113,"x2":114,"h":4,"h1":0,"h2":0},{"x1":115,"x2":116,"h":3,"h1":0,"h2":0},{"x1":113.5,"x2":115.5,"h":12,"h1":4,"h2":3},
{"x1":110.5,"x2":114.5,"h":31,"h1":10,"h2":12},
{"x1":117,"x2":118,"h":3,"h1":0,"h2":0},{"x1":117.5,"x2":119,"h":8,"h1":3,"h2":0},
{"x1":120,"x2":121,"h":4,"h1":0,"h2":0},{"x1":120.5,"x2":122,"h":9,"h1":4,"h2":0},
{"x1":118.25,"x2":121.25,"h":31,"h1":8,"h2":9},
{"x1":112.5,"x2":119.75,"h":120,"h1":31,"h2":31},
{"x1":102.82,"x2":116.125,"h":134,"h1":126,"h2":120},
{"x1":123,"x2":124,"h":3,"h1":0,"h2":0},{"x1":123.5,"x2":125,"h":8,"h1":3,"h2":0},
{"x1":126,"x2":127,"h":4,"h1":0,"h2":0},{"x1":126.5,"x2":128,"h":10,"h1":4,"h2":0},
{"x1":124.25,"x2":127.25,"h":31,"h1":8,"h2":10},
{"x1":109.47,"x2":125.75,"h":142.7,"h1":134,"h2":31},
{"x1":129,"x2":130,"h":4,"h1":0,"h2":0},{"x1":131,"x2":132,"h":3,"h1":0,"h2":0},{"x1":131.5,"x2":133,"h":10,"h1":3,"h2":0},
{"x1":129.5,"x2":132.25,"h":38,"h1":4,"h2":10},
{"x1":117.61,"x2":130.875,"h":151,"h1":142.7,"h2":38},
{"x1":124.24,"x2":134,"h":159,"h1":151,"h2":0},
{"x1":129.12,"x2":135,"h":167.5,"h1":159,"h2":0},
{"x1":132.06,"x2":136,"h":175.7,"h1":167.5,"h2":0},
{"x1":137,"x2":138,"h":3,"h1":0,"h2":0},{"x1":139,"x2":140,"h":4,"h1":0,"h2":0},{"x1":137.5,"x2":139.5,"h":10,"h1":3,"h2":4},
{"x1":141,"x2":142,"h":4,"h1":0,"h2":0},{"x1":143,"x2":144,"h":3,"h1":0,"h2":0},{"x1":143.5,"x2":145,"h":8,"h1":3,"h2":0},
{"x1":141.5,"x2":144.25,"h":16,"h1":4,"h2":8},
{"x1":138.5,"x2":142.875,"h":28,"h1":10,"h2":16},
{"x1":146,"x2":147,"h":4,"h1":0,"h2":0},{"x1":148,"x2":149,"h":3,"h1":0,"h2":0},{"x1":146.5,"x2":148.5,"h":12,"h1":4,"h2":3},
{"x1":150,"x2":151,"h":3,"h1":0,"h2":0},{"x1":150.5,"x2":152,"h":8,"h1":3,"h2":0},
{"x1":147.5,"x2":151.25,"h":26,"h1":12,"h2":8},
{"x1":140.69,"x2":149.375,"h":38.8,"h1":28,"h2":26},
{"x1":153,"x2":154,"h":3,"h1":0,"h2":0},{"x1":153.5,"x2":155,"h":8,"h1":3,"h2":0},
{"x1":156,"x2":157,"h":4,"h1":0,"h2":0},{"x1":156.5,"x2":158,"h":10,"h1":4,"h2":0},
{"x1":154.25,"x2":157.25,"h":30,"h1":8,"h2":10},
{"x1":145.03,"x2":155.75,"h":47,"h1":38.8,"h2":30},
{"x1":159,"x2":160,"h":4,"h1":0,"h2":0},{"x1":161,"x2":162,"h":3,"h1":0,"h2":0},{"x1":161.5,"x2":163,"h":8,"h1":3,"h2":0},
{"x1":159.5,"x2":162.25,"h":22,"h1":4,"h2":8},
{"x1":150.39,"x2":160.875,"h":55.3,"h1":47,"h2":22},
{"x1":164,"x2":165,"h":4,"h1":0,"h2":0},{"x1":164.5,"x2":166,"h":10,"h1":4,"h2":0},
{"x1":155.63,"x2":165.25,"h":62.8,"h1":55.3,"h2":10},
{"x1":167,"x2":168,"h":5,"h1":0,"h2":0},
{"x1":160.44,"x2":167.5,"h":70.1,"h1":62.8,"h2":5},
{"x1":163.97,"x2":169,"h":78.4,"h1":70.1,"h2":0},
{"x1":166.49,"x2":170,"h":86.6,"h1":78.4,"h2":0},
{"x1":171,"x2":172,"h":4,"h1":0,"h2":0},{"x1":173,"x2":174,"h":3,"h1":0,"h2":0},{"x1":173.5,"x2":175,"h":8,"h1":3,"h2":0},
{"x1":171.5,"x2":174.25,"h":20,"h1":4,"h2":8},
{"x1":176,"x2":177,"h":3,"h1":0,"h2":0},{"x1":176.5,"x2":178,"h":8,"h1":3,"h2":0},
{"x1":179,"x2":180,"h":4,"h1":0,"h2":0},{"x1":179.5,"x2":181,"h":9,"h1":4,"h2":0},
{"x1":177.25,"x2":180.25,"h":22,"h1":8,"h2":9},
{"x1":172.875,"x2":178.75,"h":45,"h1":20,"h2":22},
{"x1":182,"x2":183,"h":3,"h1":0,"h2":0},{"x1":182.5,"x2":184,"h":8,"h1":3,"h2":0},
{"x1":185,"x2":186,"h":4,"h1":0,"h2":0},{"x1":185.5,"x2":187,"h":10,"h1":4,"h2":0},
{"x1":183.25,"x2":186.25,"h":40,"h1":8,"h2":10},
{"x1":175.81,"x2":184.75,"h":55.3,"h1":45,"h2":40},
{"x1":188,"x2":189,"h":4,"h1":0,"h2":0},{"x1":190,"x2":191,"h":3,"h1":0,"h2":0},{"x1":190.5,"x2":192,"h":9,"h1":3,"h2":0},
{"x1":188.5,"x2":191.25,"h":22,"h1":4,"h2":9},
{"x1":180.28,"x2":189.875,"h":62.8,"h1":55.3,"h2":22},
{"x1":168.24,"x2":185.08,"h":94.9,"h1":86.6,"h2":62.8},
{"x1":176.66,"x2":193,"h":103.1,"h1":94.9,"h2":0},
{"x1":184.83,"x2":194,"h":111.4,"h1":103.1,"h2":0},
{"x1":195,"x2":196,"h":3,"h1":0,"h2":0},
{"x1":189.415,"x2":195.5,"h":119.6,"h1":111.4,"h2":3},
{"x1":192.46,"x2":197,"h":127.9,"h1":119.6,"h2":0},
{"x1":134.03,"x2":194.73,"h":184,"h1":175.7,"h2":127.9},
{"x1":198,"x2":199,"h":4,"h1":0,"h2":0},{"x1":200,"x2":201,"h":5,"h1":0,"h2":0},
{"x1":198.5,"x2":200.5,"h":14,"h1":4,"h2":5},
{"x1":202,"x2":203,"h":3,"h1":0,"h2":0},{"x1":202.5,"x2":204,"h":9,"h1":3,"h2":0},
{"x1":199.5,"x2":203.25,"h":38.8,"h1":14,"h2":9},
{"x1":205,"x2":206,"h":4,"h1":0,"h2":0},
{"x1":201.375,"x2":205.5,"h":47,"h1":38.8,"h2":4},
{"x1":207,"x2":208,"h":4,"h1":0,"h2":0},{"x1":207.5,"x2":209,"h":10,"h1":4,"h2":0},
{"x1":203.44,"x2":208.25,"h":55.3,"h1":47,"h2":10},
{"x1":210,"x2":211,"h":4,"h1":0,"h2":0},{"x1":212,"x2":213,"h":3,"h1":0,"h2":0},{"x1":212.5,"x2":214,"h":9,"h1":3,"h2":0},
{"x1":210.5,"x2":213.25,"h":28,"h1":4,"h2":9},
{"x1":205.84,"x2":211.875,"h":62.8,"h1":55.3,"h2":28},
{"x1":215,"x2":216,"h":3,"h1":0,"h2":0},{"x1":217,"x2":218,"h":4,"h1":0,"h2":0},{"x1":215.5,"x2":217.5,"h":12,"h1":3,"h2":4},
{"x1":219,"x2":220,"h":3,"h1":0,"h2":0},{"x1":219.5,"x2":221,"h":8,"h1":3,"h2":0},
{"x1":216.5,"x2":220.25,"h":38,"h1":12,"h2":8},
{"x1":222,"x2":223,"h":4,"h1":0,"h2":0},{"x1":222.5,"x2":224,"h":10,"h1":4,"h2":0},
{"x1":218.375,"x2":223.25,"h":55.3,"h1":38,"h2":10},
{"x1":225,"x2":226,"h":4,"h1":0,"h2":0},
{"x1":220.81,"x2":225.5,"h":62.8,"h1":55.3,"h2":4},
{"x1":208.86,"x2":223.16,"h":70.8,"h1":62.8,"h2":62.8},
{"x1":164.38,"x2":216.01,"h":192.2,"h1":184,"h2":70.8},
{"x1":227,"x2":228,"h":3,"h1":0,"h2":0},{"x1":227.5,"x2":229,"h":8,"h1":3,"h2":0},
{"x1":230,"x2":231,"h":4,"h1":0,"h2":0},{"x1":232,"x2":233,"h":4,"h1":0,"h2":0},
{"x1":230.5,"x2":232.5,"h":14,"h1":4,"h2":4},
{"x1":228.25,"x2":231.5,"h":29.7,"h1":8,"h2":14},
{"x1":234,"x2":235,"h":4,"h1":0,"h2":0},{"x1":234.5,"x2":236,"h":9,"h1":4,"h2":0},
{"x1":229.875,"x2":235.25,"h":38.8,"h1":29.7,"h2":9},
{"x1":190.2,"x2":232.56,"h":200.5,"h1":192.2,"h2":38.8},
{"x1":211.38,"x2":237,"h":208.8,"h1":200.5,"h2":0},
{"x1":224.19,"x2":238,"h":217,"h1":208.8,"h2":0},
{"x1":231.1,"x2":239,"h":225,"h1":217,"h2":0},
{"x1":240,"x2":241,"h":4,"h1":0,"h2":0},{"x1":242,"x2":243,"h":5,"h1":0,"h2":0},
{"x1":240.5,"x2":242.5,"h":14,"h1":4,"h2":5},
{"x1":244,"x2":245,"h":3,"h1":0,"h2":0},{"x1":244.5,"x2":246,"h":8,"h1":3,"h2":0},
{"x1":241.5,"x2":245.25,"h":22,"h1":14,"h2":8},
{"x1":247,"x2":248,"h":3,"h1":0,"h2":0},{"x1":247.5,"x2":249,"h":8,"h1":3,"h2":0},
{"x1":250,"x2":251,"h":4,"h1":0,"h2":0},{"x1":250.5,"x2":252,"h":10,"h1":4,"h2":0},
{"x1":248.25,"x2":251.25,"h":30,"h1":8,"h2":10},
{"x1":243.375,"x2":249.75,"h":38.8,"h1":22,"h2":30},
{"x1":235.05,"x2":246.56,"h":231,"h1":225,"h2":38.8}
]
},
"layer": [
{
"layer": [
{"data": {"name": "hl"}, "mark": {"type": "rect", "color": "#E5E5E5"},
 "encoding": {
  "x": {"field": "from", "type": "quantitative", "scale": {"domain": [0.4, 252.6], "nice": false, "zero": false}, "axis": null},
  "x2": {"field": "to"},
  "y": {"field": "bot", "type": "quantitative", "scale": {"domain": [-283.1, 282], "nice": false, "zero": false}, "axis": {"orient": "right", "values": [0, 100, 200], "grid": false, "domain": false, "ticks": true, "tickColor": "#333333", "tickSize": 4.5, "tickWidth": 1.1, "labelFontSize": 19, "labelColor": "#333333", "labelPadding": 4, "title": null}},
  "y2": {"field": "top"}}},
{"data": {"name": "bars"}, "transform": [{"fold": ["a", "b", "c", "d", "e"], "as": ["k", "v"]}],
 "mark": {"type": "bar", "width": 4.1, "orient": "vertical"},
 "encoding": {
  "x": {"field": "i", "type": "quantitative", "scale": {"domain": [0.4, 252.6], "nice": false, "zero": false}, "axis": null},
  "y": {"field": "v", "type": "quantitative", "stack": "zero", "scale": {"domain": [-283.1, 282], "nice": false, "zero": false}, "axis": {"orient": "right", "values": [0, 100, 200], "grid": false, "domain": false, "ticks": true, "tickColor": "#333333", "tickSize": 4.5, "tickWidth": 1.1, "labelFontSize": 19, "labelColor": "#333333", "labelPadding": 4, "title": null}},
  "order": {"field": "k", "sort": "descending"},
  "color": {"field": "k", "type": "nominal",
   "scale": {"domain": ["a", "b", "c", "d", "e"], "range": ["#F8766D", "#A3A500", "#00BF7D", "#00B0F6", "#E76BF3"]},
   "legend": {"title": "Accessory", "orient": "none", "legendX": 332, "legendY": -43, "direction": "horizontal", "titleOrient": "left", "titleAnchor": "middle", "titleBaseline": "middle", "titleFontSize": 23, "titleFontWeight": "normal", "titleColor": "black", "titlePadding": 11, "labelFontSize": 17, "labelColor": "black", "symbolType": "square", "symbolSize": 1050, "symbolStrokeWidth": 0, "symbolOpacity": 1, "labelOffset": 12, "columnPadding": 22,
    "labelExpr": "datum.label == 'a' ? '(0, 20%]' : datum.label == 'b' ? '(20%, 40%]' : datum.label == 'c' ? '(40%, 60%]' : datum.label == 'd' ? '(60%, 80%]' : '(80%, 100%]'"}}}},
{"data": {"name": "hl"}, "mark": {"type": "rule", "color": "black", "strokeWidth": 1.2},
 "encoding": {
  "x": {"field": "to", "type": "quantitative", "scale": {"domain": [0.4, 252.6], "nice": false, "zero": false}, "axis": null},
  "y": {"field": "bot", "type": "quantitative", "scale": {"domain": [-283.1, 282], "nice": false, "zero": false}, "axis": {"orient": "right", "values": [0, 100, 200], "grid": false, "domain": false, "ticks": true, "tickColor": "#333333", "tickSize": 4.5, "tickWidth": 1.1, "labelFontSize": 19, "labelColor": "#333333", "labelPadding": 4, "title": null}},
  "y2": {"field": "top"}}}
]
},
{
"data": {"name": "tree"},
"layer": [
{"mark": {"type": "rule", "color": "#1a1a1a", "strokeWidth": 1.2},
 "encoding": {
  "x": {"field": "x1", "type": "quantitative", "scale": {"domain": [0.4, 252.6], "nice": false, "zero": false}, "axis": null},
  "x2": {"field": "x2"},
  "y": {"field": "h", "type": "quantitative", "scale": {"domain": [-268, 233], "reverse": true, "nice": false, "zero": false}, "axis": null}}},
{"mark": {"type": "rule", "color": "#1a1a1a", "strokeWidth": 1.2},
 "encoding": {
  "x": {"field": "x1", "type": "quantitative", "scale": {"domain": [0.4, 252.6], "nice": false, "zero": false}, "axis": null},
  "y": {"field": "h", "type": "quantitative", "scale": {"domain": [-268, 233], "reverse": true, "nice": false, "zero": false}, "axis": null},
  "y2": {"field": "h1"}}},
{"mark": {"type": "rule", "color": "#1a1a1a", "strokeWidth": 1.2},
 "encoding": {
  "x": {"field": "x2", "type": "quantitative", "scale": {"domain": [0.4, 252.6], "nice": false, "zero": false}, "axis": null},
  "y": {"field": "h", "type": "quantitative", "scale": {"domain": [-268, 233], "reverse": true, "nice": false, "zero": false}, "axis": null},
  "y2": {"field": "h2"}}},
{"data": {"name": "bars"},
 "mark": {"type": "point", "filled": true, "size": 40, "opacity": 1},
 "encoding": {
  "x": {"field": "i", "type": "quantitative", "scale": {"domain": [0.4, 252.6], "nice": false, "zero": false}, "axis": null},
  "y": {"datum": -2.5, "type": "quantitative", "scale": {"domain": [-268, 233], "reverse": true, "nice": false, "zero": false}, "axis": null},
  "color": {"field": "o", "type": "nominal",
   "scale": {"domain": ["C", "E"], "range": ["#FF00FF", "#00FF00"]},
   "legend": {"title": "Origin", "orient": "none", "legendX": -7, "legendY": -35, "direction": "horizontal", "titleOrient": "left", "titleAnchor": "middle", "titleBaseline": "middle", "titleFontSize": 23, "titleFontWeight": "normal", "titleColor": "black", "titlePadding": 18, "labelFontSize": 18, "labelColor": "black", "symbolType": "circle", "symbolSize": 60, "symbolStrokeWidth": 0, "symbolOpacity": 1, "labelOffset": 7, "columnPadding": 23,
    "labelExpr": "datum.label == 'C' ? 'Clinical' : 'Environmental'"}}}}
]
}
],
"resolve": {"scale": {"y": "independent", "color": "independent"}, "axis": {"y": "independent"}}
}
